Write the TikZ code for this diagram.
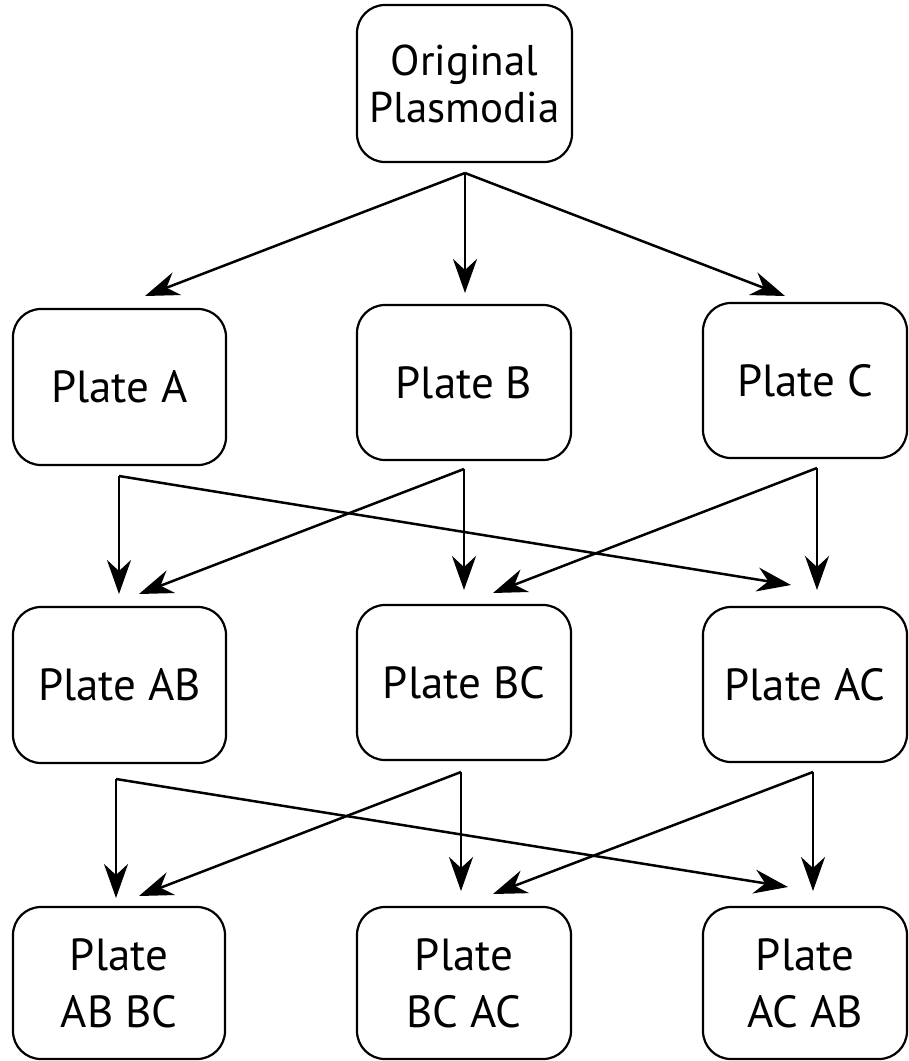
\documentclass[tikz,border=0pt]{standalone}
\usepackage{fontspec}
\setmainfont{PT Sans}
\usetikzlibrary{arrows.meta}
\begin{document}
\begin{tikzpicture}[x=1pt,y=-1pt,
  box/.style={draw=black, line width=2.2pt, rounded corners=28pt, fill=white, align=center, inner sep=0pt,
    font=\fontsize{45}{57}\selectfont},
  arr/.style={line width=2.5pt, -{Stealth[length=34pt,width=24pt,inset=11pt]}}]
\fill[white] (0,0) rectangle (909,1061);
\useasboundingbox (0,0) rectangle (909,1061);
% nodes
\node[box, minimum width=215pt, minimum height=157pt, font=\fontsize{43}{47}\selectfont] (orig) at (464.5,83.5) {Original\\Plasmodia};
\node[box, minimum width=213pt, minimum height=156pt] (A) at (119.5,387) {Plate A};
\node[box, minimum width=214pt, minimum height=155pt] (B) at (464,382.5) {Plate B};
\node[box, minimum width=204pt, minimum height=155pt] (C) at (805,380.5) {Plate C};
\node[box, minimum width=213pt, minimum height=156pt] (AB) at (119.5,685) {Plate AB};
\node[box, minimum width=214pt, minimum height=155pt] (BC) at (464,682.5) {Plate BC};
\node[box, minimum width=204pt, minimum height=155pt] (AC) at (805,684.5) {Plate AC};
\node[box, minimum width=212pt, minimum height=152pt] (ABBC) at (119,983) {Plate\\AB BC};
\node[box, minimum width=214pt, minimum height=152pt] (BCAC) at (464,983) {Plate\\BC AC};
\node[box, minimum width=204pt, minimum height=152pt] (ACAB) at (805,983) {Plate\\AC AB};
% branch points and arrow ends
\coordinate (s0) at (465,173);
\coordinate (t0a) at (145,296);
\coordinate (t0b) at (465,293);
\coordinate (t0c) at (785,296);
\coordinate (s1a) at (119,476);
\coordinate (s1b) at (464,469);
\coordinate (s1c) at (817,468);
\coordinate (t1aa) at (119,594);
\coordinate (t1ba) at (139,594);
\coordinate (t1bb) at (464,590);
\coordinate (t1cb) at (493,593);
\coordinate (t1cc) at (817,590);
\coordinate (t1ac) at (791,585);
\coordinate (s2a) at (116,779);
\coordinate (s2b) at (461,772);
\coordinate (s2c) at (813,772);
\coordinate (t2aa) at (116,898);
\coordinate (t2ba) at (139,896);
\coordinate (t2bb) at (461,891);
\coordinate (t2cb) at (493,894);
\coordinate (t2cc) at (813,891);
\coordinate (t2ac) at (788,887);
% connectors
\draw[arr] (s0) -- (t0a);
\draw[arr] (s0) -- (t0b);
\draw[arr] (s0) -- (t0c);
\draw[arr] (s1a) -- (t1aa);
\draw[arr] (s1a) -- (t1ac);
\draw[arr] (s1b) -- (t1ba);
\draw[arr] (s1b) -- (t1bb);
\draw[arr] (s1c) -- (t1cb);
\draw[arr] (s1c) -- (t1cc);
\draw[arr] (s2a) -- (t2aa);
\draw[arr] (s2a) -- (t2ac);
\draw[arr] (s2b) -- (t2ba);
\draw[arr] (s2b) -- (t2bb);
\draw[arr] (s2c) -- (t2cb);
\draw[arr] (s2c) -- (t2cc);
\end{tikzpicture}
\end{document}
